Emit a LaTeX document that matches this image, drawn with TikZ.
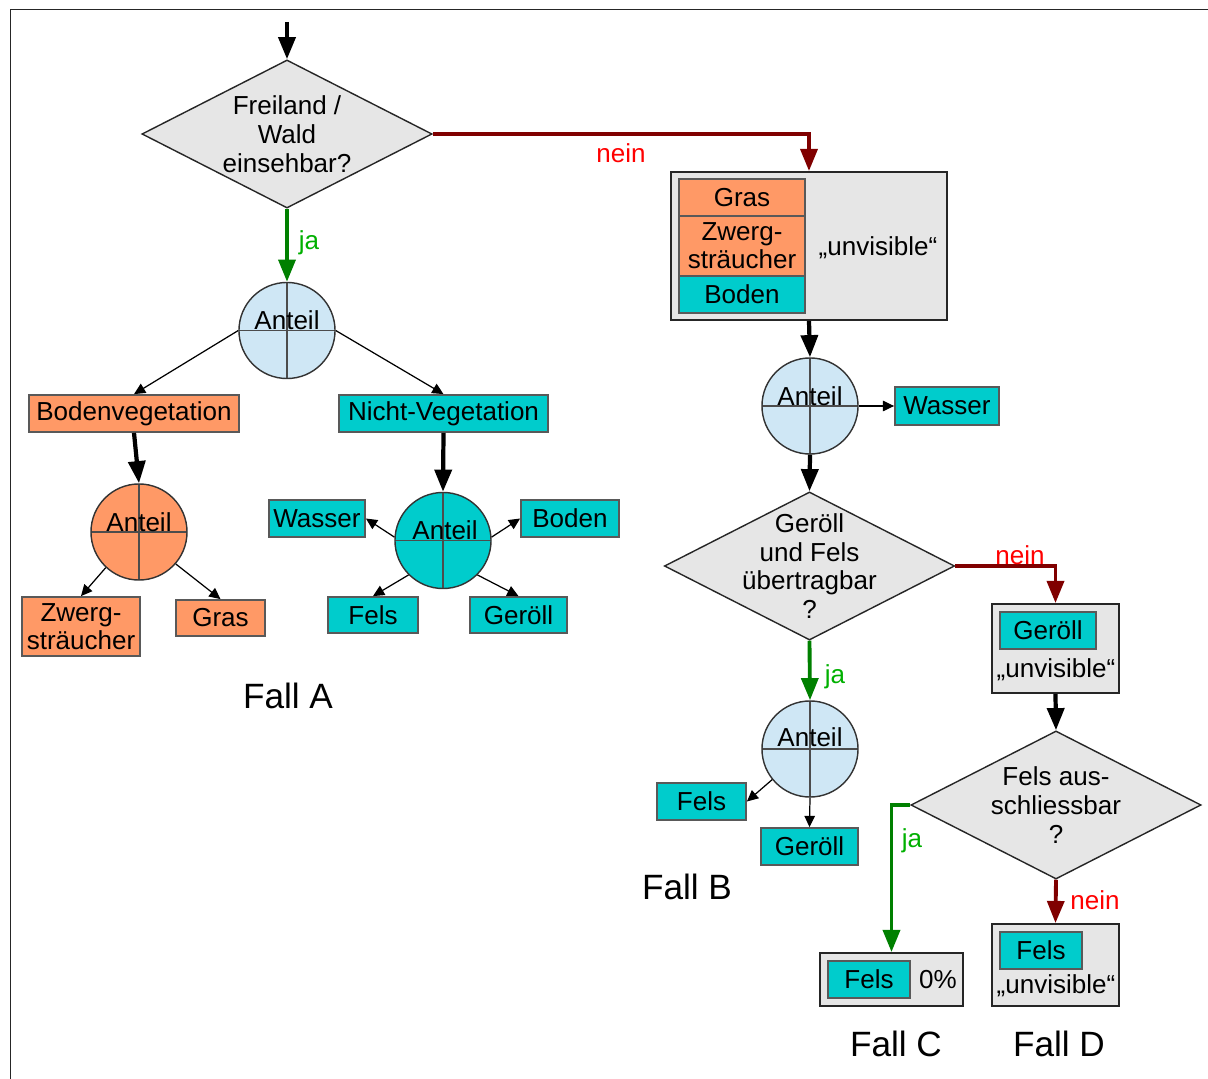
\documentclass[tikz,border=0pt]{standalone}
\usepackage{fontspec}
\setmainfont{Liberation Sans}
\usetikzlibrary{shapes.geometric,arrows.meta}
\definecolor{orng}{HTML}{FF9966}
\definecolor{cyn}{HTML}{00CCCC}
\definecolor{lgray}{HTML}{E6E6E6}
\definecolor{lblue}{HTML}{CFE7F5}
\definecolor{dred}{HTML}{800000}
\definecolor{dgreen}{HTML}{008000}
\definecolor{lgreen}{HTML}{00B000}
\begin{document}
\begin{tikzpicture}[x=0.01cm,y=-0.01cm,
  font=\fontsize{7.4}{8.2}\selectfont,
  box/.style={draw=black!65, line width=0.5pt, inner sep=0pt, align=center},
  obox/.style={box, fill=orng},
  cbox/.style={box, fill=cyn},
  gbox/.style={draw=black!85, line width=0.5pt, fill=lgray, inner sep=0pt},
  dia/.style={diamond, draw=black!85, line width=0.4pt, fill=lgray, inner sep=0pt,
     minimum width=29mm, minimum height=14.8mm, aspect=1.96},
  circ/.style={circle, draw=black!80, line width=0.4pt, minimum size=9.6mm, inner sep=0pt,
     path picture={\draw[black!70, line width=0.4pt]
       (path picture bounding box.north) -- (path picture bounding box.south)
       (path picture bounding box.west) -- (path picture bounding box.east);}},
  txt/.style={inner sep=0pt, align=center},
  fall/.style={inner sep=0pt, font=\fontsize{10}{12}\selectfont},
  thick arrow/.style={draw=black, line width=1.2pt, -{Triangle[length=6.3pt,width=4.8pt]}},
  thin arrow/.style={draw=black, line width=0.35pt, -{Triangle[length=3.2pt,width=3pt]}},
  nein arrow/.style={draw=dred, line width=1.1pt, -{Triangle[length=6.3pt,width=4.8pt]}},
  ja arrow/.style={draw=dgreen, line width=1.1pt, -{Triangle[length=6.3pt,width=4.8pt]}},
  neinlbl/.style={inner sep=0pt, text=red},
  jalbl/.style={inner sep=0pt, text=lgreen},
]
\useasboundingbox (0,0) rectangle (1208,1079);
\fill[white] (0,0) rectangle (1208,1079);
% frame
\draw[black!85, line width=0.5pt] (10.5,1079) -- (10.5,9.5) -- (1208,9.5);

% ---------- top decision ----------
\coordinate (start) at (287,22);
\node[dia] (d1) at (287,134) {};
\node[txt] (d1t) at (287,134) {Freiland /\\Wald\\einsehbar?};
\draw[thick arrow] (start) -- (d1.north);

% ---------- Fall A ----------
\node[circ, fill=lblue] (c1) at (287,330.5) {};
\node[txt] (c1t) at (287,320.5) {Anteil};
\draw[ja arrow] (d1.south) -- (c1.north);
\node[jalbl] (ja1) at (309,243) {ja};

\node[obox, minimum width=21mm, minimum height=3.7mm] (bv) at (134,413.5) {Bodenvegetation};
\node[cbox, minimum width=20.9mm, minimum height=3.7mm] (nv) at (443.5,413.5) {Nicht-Vegetation};
\draw[thin arrow] (c1.west) -- (bv.north);
\draw[thin arrow] (c1.east) -- (nv.north);

\node[circ, fill=orng] (c2) at (139,532) {};
\node[txt] (c2t) at (139,522) {Anteil};
\draw[thick arrow] (bv.south) -- (c2.north);
\node[obox, minimum width=11.8mm, minimum height=5.9mm] (zwA) at (81,626.5) {Zwerg-\\[-0.3pt]sträucher};
\node[obox, minimum width=8.9mm, minimum height=3.6mm] (grA) at (220.5,618) {Gras};
\draw[thin arrow] (c2.-133) -- (zwA.north);
\draw[thin arrow] (c2.-41) -- (grA.north);

\node[circ, fill=cyn] (c3) at (443,540.5) {};
\node[txt] (c3t) at (445,530) {Anteil};
\draw[thick arrow] (nv.south) -- (c3.north);
\node[cbox, minimum width=9.6mm, minimum height=3.7mm] (waA) at (317,518.5) {Wasser};
\node[cbox, minimum width=9.8mm, minimum height=3.7mm] (boA) at (570,518.5) {Boden};
\node[cbox, minimum width=9mm, minimum height=3.6mm] (feA) at (373,615) {Fels};
\node[cbox, minimum width=9.7mm, minimum height=3.6mm] (geA) at (518.5,615) {Geröll};
\draw[thin arrow] (c3.176) -- (waA.east);
\draw[thin arrow] (c3.4) -- (boA.west);
\draw[thin arrow] (c3.-135) -- (feA.north);
\draw[thin arrow] (c3.-45) -- (geA.north);
\node[fall] (fallA) at (288,696) {Fall A};

% ---------- Fall B ----------
\node[gbox, minimum width=27.6mm, minimum height=14.8mm] (bigB) at (809,246) {};
\node[obox, minimum width=12.6mm, minimum height=3.7mm] (grB) at (742,197.5) {Gras};
\node[obox, minimum width=12.6mm, minimum height=6mm] (zwB) at (742,246) {Zwerg-\\[-0.3pt]sträucher};
\node[cbox, minimum width=12.6mm, minimum height=3.7mm] (boB) at (742,294.5) {Boden};
\node[txt] (unvB) at (878,248) {„unvisible“};
\draw[nein arrow] (d1.east) -| (bigB.north);
\node[neinlbl] (nein1) at (621,153) {nein};

\node[circ, fill=lblue] (cb1) at (810,406) {};
\node[txt] (cb1t) at (810,396) {Anteil};
\draw[thick arrow] (bigB.south) -- (cb1.north);
\node[cbox, minimum width=10.4mm, minimum height=3.8mm] (waB) at (947,406) {Wasser};
\draw[thin arrow] (cb1.east) -- (waB.west);

\node[dia] (d2) at (809.5,566) {};
\node[txt] (d2t) at (809.5,566) {Geröll\\und Fels\\übertragbar\\?};
\draw[thick arrow] (cb1.south) -- (d2.north);

\node[circ, fill=lblue] (cb2) at (810,749) {};
\node[txt] (cb2t) at (810,737) {Anteil};
\draw[ja arrow] (d2.south) -- (cb2.north);
\node[jalbl] (ja2) at (835,677) {ja};
\node[cbox, minimum width=8.9mm, minimum height=3.7mm] (feB) at (701.5,801.5) {Fels};
\node[cbox, minimum width=9.7mm, minimum height=3.7mm] (geB) at (809.5,846.5) {Geröll};
\draw[thin arrow] (cb2.-141) -- (feB.east);
\draw[thin arrow] (cb2.south) -- (geB.north);
\node[fall] (fallB) at (687,887) {Fall B};

% ---------- Fall D (upper) ----------
\node[gbox, minimum width=12.7mm, minimum height=8.9mm] (bd1) at (1055.5,648.5) {};
\node[cbox, minimum width=9.6mm, minimum height=3.7mm] (geD) at (1048,630.5) {Geröll};
\node[txt] (unvD1) at (1056,670) {„unvisible“};
\draw[nein arrow] (d2.east) -| (bd1.north);
\node[neinlbl] (nein2) at (1020,555) {nein};

\node[dia] (d3) at (1056,805) {};
\node[txt] (d3t) at (1056,805) {Fels aus-\\schliessbar\\?};
\draw[thick arrow] (bd1.south) -- (d3.north);

% ---------- Fall C ----------
\node[gbox, minimum width=14.3mm, minimum height=5.3mm] (bc) at (891.5,979.5) {};
\node[cbox, minimum width=8.2mm, minimum height=3.7mm] (feC) at (869,979.5) {Fels};
\node[txt] (pct) at (938,980) {0\%};
\draw[ja arrow] (d3.west) -| (bc.north);
\node[jalbl] (ja3) at (912,841) {ja};
\node[fall] (fallC) at (896,1044) {Fall C};

% ---------- Fall D ----------
\node[gbox, minimum width=12.7mm, minimum height=8.2mm] (bd2) at (1055.5,965) {};
\node[cbox, minimum width=8.2mm, minimum height=3.7mm] (feD) at (1041,950.5) {Fels};
\node[txt] (unvD2) at (1056,986) {„unvisible“};
\draw[nein arrow] (d3.south) -- (bd2.north);
\node[neinlbl] (nein3) at (1095,900) {nein};
\node[fall] (fallD) at (1059,1044) {Fall D};
\end{tikzpicture}
\end{document}
